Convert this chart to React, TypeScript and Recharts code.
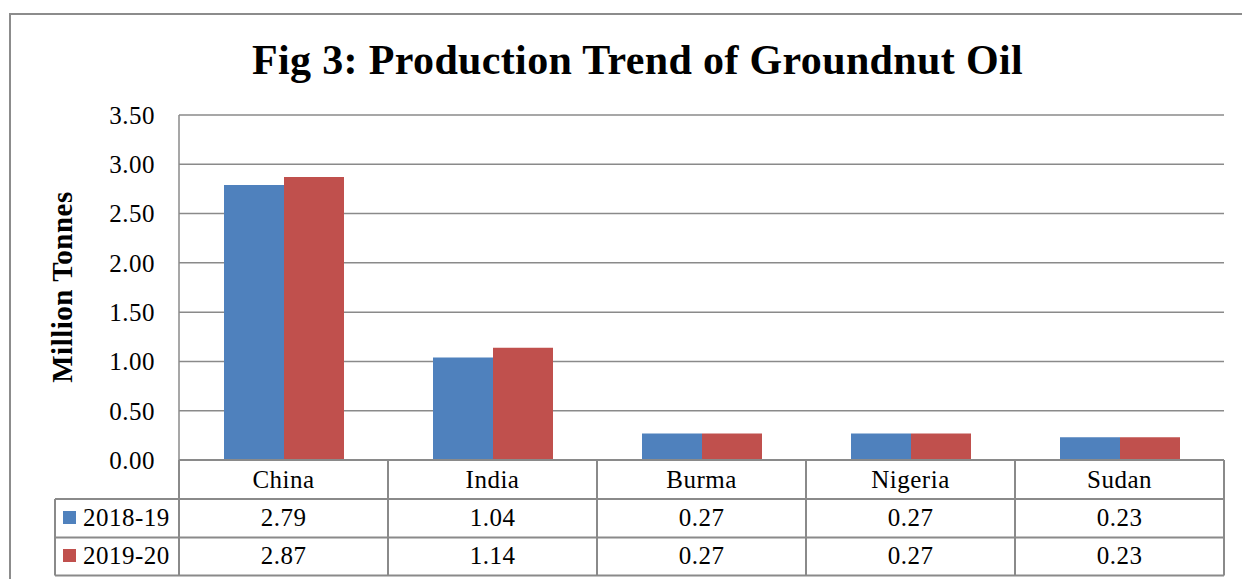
import React from 'react';
import { BarChart, Bar, XAxis, YAxis, CartesianGrid } from 'recharts';

const categories = ['China', 'India', 'Burma', 'Nigeria', 'Sudan'];
const series2018 = [2.79, 1.04, 0.27, 0.27, 0.23];
const series2019 = [2.87, 1.14, 0.27, 0.27, 0.23];
const seriesNames = ['2018-19', '2019-20'];
const seriesColors = ['#4F81BD', '#C0504D'];
const yTicks = [0, 0.5, 1, 1.5, 2, 2.5, 3, 3.5];
const title = 'Fig 3: Production Trend of Groundnut Oil';
const yLabel = 'Million Tonnes';

const data = categories.map((c, i) => ({ name: c, v1: series2018[i], v2: series2019[i] }));

const W = 1242;
const H = 579;
const LEFT = 179;
const RIGHT = 18;
const TOP = 115;
const XAXIS_H = 119;
const FONT = '"Liberation Serif", "Times New Roman", serif';
const FS = 25;
const LS = 0.5;
const GRID = '#8a8a8a';
const HALF_BAND = (W - LEFT - RIGHT) / categories.length / 2;
const ROW1 = 499;
const ROW2 = 537.5;
const ROW3 = 575.5;
const LEG_LEFT = 55;

const txt = { fontSize: FS, fontFamily: FONT, fill: '#000', letterSpacing: LS };

const TableTick = (props: any) => {
  const { x, payload, index } = props;
  const y0 = H - XAXIS_H;
  const i = payload?.index ?? index;
  const l = x - HALF_BAND;
  const r = x + HALF_BAND;
  const ls = { stroke: GRID, strokeWidth: 2 };
  return (
    <g>
      {i === 0 && <line x1={l} y1={y0} x2={l} y2={ROW3} {...ls} />}
      <line x1={r} y1={y0} x2={r} y2={ROW3} {...ls} />
      <line x1={l} y1={ROW1} x2={r} y2={ROW1} {...ls} />
      <line x1={l} y1={ROW2} x2={r} y2={ROW2} {...ls} />
      <line x1={l} y1={ROW3} x2={r} y2={ROW3} {...ls} />
      <text x={x} y={488} textAnchor="middle" {...txt}>{payload.value}</text>
      <text x={x} y={526} textAnchor="middle" {...txt}>{series2018[i].toFixed(2)}</text>
      <text x={x} y={564} textAnchor="middle" {...txt}>{series2019[i].toFixed(2)}</text>
      {i === 0 && (
        <g>
          <line x1={LEG_LEFT} y1={ROW1} x2={l} y2={ROW1} {...ls} />
          <line x1={LEG_LEFT} y1={ROW2} x2={l} y2={ROW2} {...ls} />
          <line x1={LEG_LEFT} y1={ROW3} x2={l} y2={ROW3} {...ls} />
          <line x1={LEG_LEFT} y1={ROW1} x2={LEG_LEFT} y2={ROW3} {...ls} />
          <rect x={63} y={511} width={13} height={13} fill={seriesColors[0]} />
          <rect x={63} y={549} width={13} height={13} fill={seriesColors[1]} />
          <text x={83} y={526} {...txt}>{seriesNames[0]}</text>
          <text x={83} y={564} {...txt}>{seriesNames[1]}</text>
        </g>
      )}
    </g>
  );
};

export default function App() {
  return (
    <div style={{ position: 'absolute', left: 0, top: 0, width: W, height: H, background: '#fff', overflow: 'hidden' }}>
      <div
        style={{
          position: 'absolute', left: 9, top: 13, width: W + 20, height: H + 20,
          borderLeft: '2px solid #8c8c8c', borderTop: '2px solid #8c8c8c', boxSizing: 'border-box',
        }}
      />
      <div
        style={{
          position: 'absolute', left: 0, width: 1275, top: 35, textAlign: 'center',
          fontFamily: FONT, fontWeight: 'bold', fontSize: 42, lineHeight: '50px', color: '#000',
          letterSpacing: 0.35, whiteSpace: 'nowrap',
        }}
      >
        {title}
      </div>
      <div style={{ position: 'absolute', left: 0, top: 0 }}>
        <BarChart
          width={W}
          height={H}
          data={data}
          margin={{ top: TOP, right: RIGHT, left: 0, bottom: 0 }}
          barGap={0}
        >
          <CartesianGrid horizontal vertical={false} stroke={GRID} strokeWidth={1.5} />
          <YAxis
            width={LEFT}
            domain={[0, 3.5]}
            ticks={yTicks}
            interval={0}
            tickFormatter={(v: number) => v.toFixed(2)}
            tickLine={false}
            tickSize={0}
            tickMargin={24}
            axisLine={{ stroke: GRID, strokeWidth: 1.5 }}
            tick={{ ...txt }}
            label={{
              content: () => (
                <text
                  x={72}
                  y={287}
                  transform="rotate(-90 72 287)"
                  textAnchor="middle"
                  fontSize={29}
                  fontWeight="bold"
                  fontFamily={FONT}
                  letterSpacing={0.5}
                  fill="#000"
                >
                  {yLabel}
                </text>
              ),
            }}
          />
          <XAxis
            dataKey="name"
            height={XAXIS_H}
            interval={0}
            tickLine={false}
            tickSize={0}
            axisLine={{ stroke: GRID, strokeWidth: 2 }}
            tick={(p: any) => <TableTick {...p} />}
          />
          <Bar dataKey="v1" name={seriesNames[0]} fill={seriesColors[0]} barSize={60} isAnimationActive={false} />
          <Bar dataKey="v2" name={seriesNames[1]} fill={seriesColors[1]} barSize={60} isAnimationActive={false} />
        </BarChart>
      </div>
    </div>
  );
}
